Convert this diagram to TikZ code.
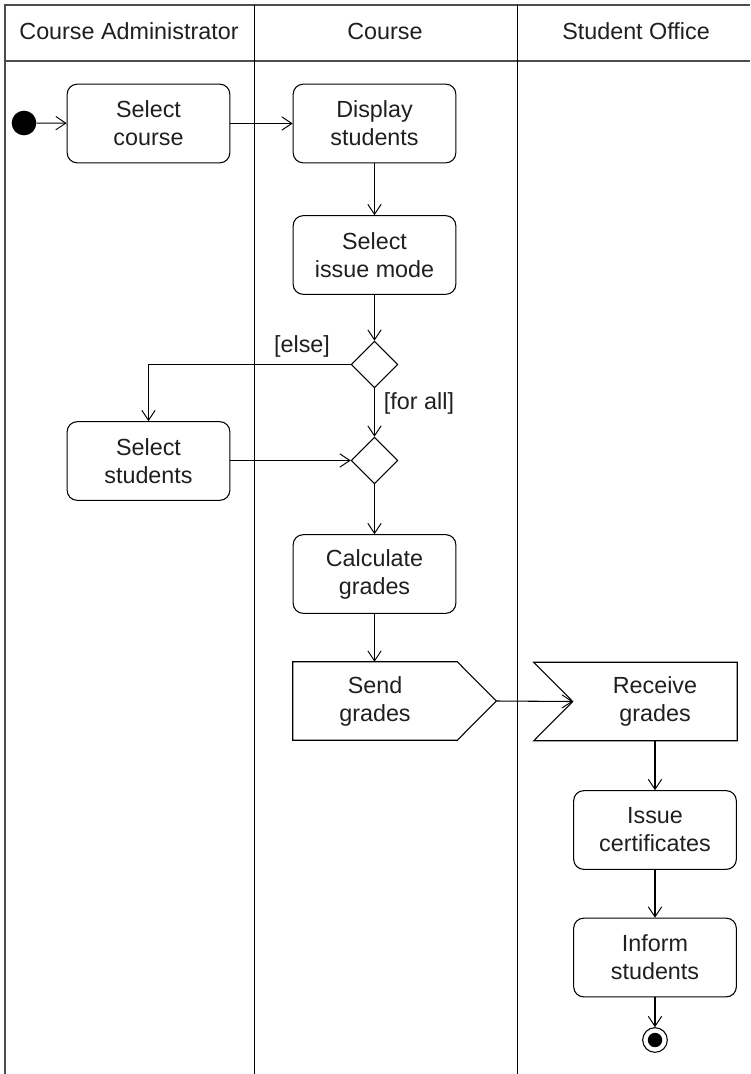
\documentclass[tikz,border=0pt]{standalone}
\usepackage{fontspec}
\setmainfont{Liberation Sans}
\usetikzlibrary{arrows.meta,shapes.geometric}
\begin{document}
\begin{tikzpicture}[x=0.75pt,y=-0.75pt,
  every node/.style={font=\fontsize{17.5pt}{21pt}\selectfont, align=center, text=black!88},
  frame/.style={line width=1.1pt, draw=black!70},
  lane/.style={line width=0.75pt, draw=black},
  act/.style={draw, line width=0.8pt, rounded corners=7.5pt, minimum width=122pt, minimum height=59pt, inner sep=0pt},
  sig/.style={minimum width=123pt, minimum height=58.5pt, inner sep=0pt},
  sigline/.style={draw, line width=0.8pt, line join=miter},
  decision/.style={draw, diamond, line width=0.8pt, minimum width=35pt, minimum height=35pt, inner sep=0pt},
  flow/.style={draw, line width=0.8pt, -{Straight Barb[length=7.5pt,width=10pt,line width=0.7pt]}},
  guard/.style={font=\fontsize{17.5pt}{21pt}\selectfont}
]
\useasboundingbox (0,0) rectangle (750,1074);
% swimlane frame
\draw[frame] (5,1074) -- (5,5) -- (750,5);
\draw[frame] (5,61) -- (750,61);
\draw[lane] (254,5) -- (254,1074);
\draw[lane] (517,5) -- (517,1074);
\node (h1) at (129,31) {Course Administrator};
\node (h2) at (385,31) {Course};
\node (h3) at (636,31) {Student Office};

% nodes
\node[circle, fill=black, minimum size=18.5pt, inner sep=0pt] (start) at (24,123) {};
\node[act] (selcourse) at (148.5,123.5) {Select\\course};
\node[act] (display) at (374.5,123.5) {Display\\students};
\node[act] (issue) at (374.5,255) {Select\\issue mode};
\node[decision] (dec1) at (374.5,364.5) {};
\node[act] (selstud) at (148.5,461) {Select\\students};
\node[decision] (dec2) at (374.5,460.5) {};
\node[act] (calc) at (374.5,574) {Calculate\\grades};
\node[sig] (send) at (375,701) {Send\\grades};
\coordinate (sendtip) at ([xshift=29.25pt]send.east);
\draw[sigline] (send.north west) -- (send.north east) -- (sendtip) -- (send.south east) -- (send.south west) -- cycle;
\node[sig] (recv) at (655,701.5) {Receive\\grades};
\draw[sigline] (recv.north east) -- (recv.south east) -- ([xshift=-29.25pt]recv.south west) -- (recv.west) -- ([xshift=-29.25pt]recv.north west) -- cycle;
\node[act] (cert) at (655,830) {Issue\\certificates};
\node[act] (inform) at (655,957.5) {Inform\\students};
\node[circle, draw, line width=0.8pt, minimum size=18.5pt, inner sep=0pt] (final) at (655,1040) {};
\fill (final.center) circle (5.4pt);

% connectors
\draw[flow] (start) -- (selcourse);
\draw[flow] (selcourse) -- (display);
\draw[flow] (display) -- (issue);
\draw[flow] (issue) -- (dec1.north);
\draw[flow] (dec1.west) -| (selstud.north);
\draw[flow] (dec1.south) -- (dec2.north);
\draw[flow] (selstud.east |- dec2.west) -- (dec2.west);
\draw[flow] (dec2.south) -- (calc.north);
\draw[flow] (calc.south) -- (send.north -| calc.south);
\draw[flow] (sendtip) -- (recv.west);
\draw[flow] (recv.south) -- (cert.north);
\draw[flow] (cert) -- (inform);
\draw[flow] (inform) -- (final);

% guards
\node[guard] (gelse) at (302,346) {[else]};
\node[guard] (gall) at (419,403) {[for all]};
\end{tikzpicture}
\end{document}
